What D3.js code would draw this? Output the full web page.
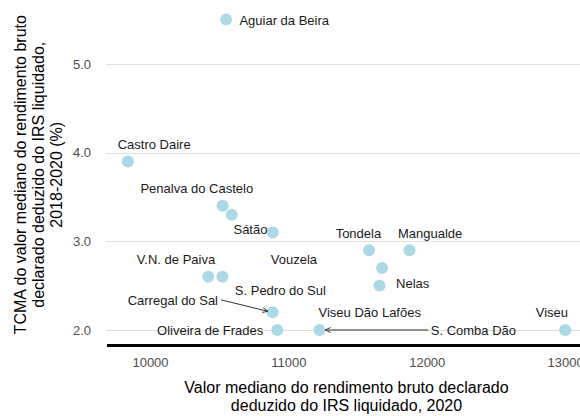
<!DOCTYPE html>
<html>
<head>
<meta charset="utf-8">
<script src="https://cdn.jsdelivr.net/npm/d3@7"></script>
<style>
  html, body { margin: 0; padding: 0; background: #fff; }
  svg { display: block; font-family: "Liberation Sans", Arial, sans-serif; }
</style>
</head>
<body>
<svg id="chart" width="580" height="416"></svg>
<script>
// ---- data ----
const names = ["Aguiar da Beira", "Castro Daire", "Penalva do Castelo", "Vouzela", "Sátão",
  "Tondela", "Mangualde", "S. Pedro do Sul", "Nelas", "V.N. de Paiva", "Moimenta",
  "Carregal do Sal", "Oliveira de Frades", "S. Comba Dão", "Viseu"];
const income = [10550, 9840, 10525, 10590, 10887, 11583, 11875, 11677, 11658, 10421, 10523,
  10887, 10920, 11224, 13000];
const growth = [5.5, 3.9, 3.4, 3.3, 3.1, 2.9, 2.9, 2.7, 2.5, 2.6, 2.6, 2.2, 2.0, 2.0, 2.0];

// label annotations (text and anchor in data units)
const labelText = ["Aguiar da Beira", "Castro Daire", "Penalva do Castelo", "Sátão", "Tondela",
  "Mangualde", "V.N. de Paiva", "Vouzela", "Nelas", "S. Pedro do Sul", "Carregal do Sal",
  "Viseu Dão Lafões", "Viseu", "Oliveira de Frades", "S. Comba Dão"];
const labelX = [10970, 10030, 10338, 10726, 11506, 12024, 10188, 11040, 11898, 10942, 10165,
  11588, 12904, 10435, 12337];
const labelY = [5.49, 4.09, 3.59, 3.13, 3.09, 3.09, 2.79, 2.79, 2.53, 2.44, 2.33, 2.20, 2.20, 1.99, 1.99];

// arrows: [x1, y1, x2, y2] in data units
const arrows = [
  [10513, 2.34, 10853, 2.21],
  [12010, 2.0, 11265, 2.0]
];

const xTicks = [10000, 11000, 12000, 13000];
const yTicks = [2.0, 3.0, 4.0, 5.0];

// ---- layout ----
const svg = d3.select("#chart");
const pL = 106, pR = 587, pT = 4, pB = 345.5;

const x = d3.scaleLinear().domain([9682, 13158]).range([pL, pR]);
const y = d3.scaleLinear().domain([1.825, 5.675]).range([pB, pT]);

// defs arrow marker
svg.append("defs").append("marker")
  .attr("id", "arr").attr("viewBox", "0 0 10 10")
  .attr("refX", 9).attr("refY", 5)
  .attr("markerWidth", 7).attr("markerHeight", 7)
  .attr("markerUnits", "userSpaceOnUse")
  .attr("orient", "auto")
  .append("path").attr("d", "M1,1.5 L9,5 L1,8.5")
  .attr("fill", "none").attr("stroke", "#333").attr("stroke-width", 1.3);

// gridlines
svg.append("g").selectAll("line").data(yTicks).join("line")
  .attr("x1", pL).attr("x2", 580)
  .attr("y1", d => Math.round(y(d)) + 0.5).attr("y2", d => Math.round(y(d)) + 0.5)
  .attr("stroke", "#dedede").attr("stroke-width", 1.1);

// y axis tick labels
const yAxis = svg.append("g").attr("transform", `translate(${pL},0)`)
  .call(d3.axisLeft(y).tickValues(yTicks).tickFormat(d3.format(".1f")).tickSize(0).tickPadding(15));
yAxis.select(".domain").remove();
yAxis.selectAll("text").attr("fill", "#4d4d4d").attr("font-size", 13)
  .attr("font-family", "Liberation Sans, Arial, sans-serif");

// x axis
const xAxis = svg.append("g").attr("transform", `translate(0,${pB})`)
  .call(d3.axisBottom(x).tickValues(xTicks).tickFormat(d3.format("d")).tickSize(0).tickPadding(12));
xAxis.select(".domain").remove();
xAxis.selectAll("text").attr("fill", "#4d4d4d").attr("font-size", 13)
  .attr("font-family", "Liberation Sans, Arial, sans-serif");

// thick baseline
svg.append("line").attr("x1", pL + 1).attr("x2", 580)
  .attr("y1", pB).attr("y2", pB)
  .attr("stroke", "#000").attr("stroke-width", 3);

// points
svg.append("g").selectAll("circle").data(names.map((n, i) => ({ n, xv: income[i], yv: growth[i] })))
  .join("circle")
  .attr("cx", d => x(d.xv)).attr("cy", d => y(d.yv)).attr("r", 6)
  .attr("fill", "#ADD8E6");

// arrows
svg.append("g").selectAll("line").data(arrows).join("line")
  .attr("x1", d => x(d[0])).attr("y1", d => y(d[1]))
  .attr("x2", d => x(d[2])).attr("y2", d => y(d[3]))
  .attr("stroke", "#333").attr("stroke-width", 1)
  .attr("marker-end", "url(#arr)");

// labels
svg.append("g").selectAll("text").data(labelText.map((t, i) => ({ t, lx: labelX[i], ly: labelY[i] })))
  .join("text")
  .attr("x", d => x(d.lx)).attr("y", d => y(d.ly))
  .attr("dy", "0.35em").attr("text-anchor", "middle")
  .attr("font-size", 13).attr("fill", "#1a1a1a")
  .text(d => d.t);

// axis titles
const xt = svg.append("text").attr("text-anchor", "middle")
  .attr("font-size", 16).attr("fill", "#000");
xt.append("tspan").attr("x", (pL + pR) / 2).attr("y", 393).text("Valor mediano do rendimento bruto declarado");
xt.append("tspan").attr("x", (pL + pR) / 2).attr("y", 411).text("deduzido do IRS liquidado, 2020");

const cy = (pT + pB) / 2;
const yt = svg.append("text").attr("text-anchor", "middle")
  .attr("font-size", 16).attr("fill", "#000")
  .attr("transform", `translate(0,${cy}) rotate(-90)`);
yt.append("tspan").attr("x", 0).attr("y", 26).text("TCMA do valor mediano do rendimento bruto");
yt.append("tspan").attr("x", 0).attr("y", 44).text("declarado deduzido do IRS liquidado,");
yt.append("tspan").attr("x", 0).attr("y", 62).text("2018-2020 (%)");
</script>
</body>
</html>
